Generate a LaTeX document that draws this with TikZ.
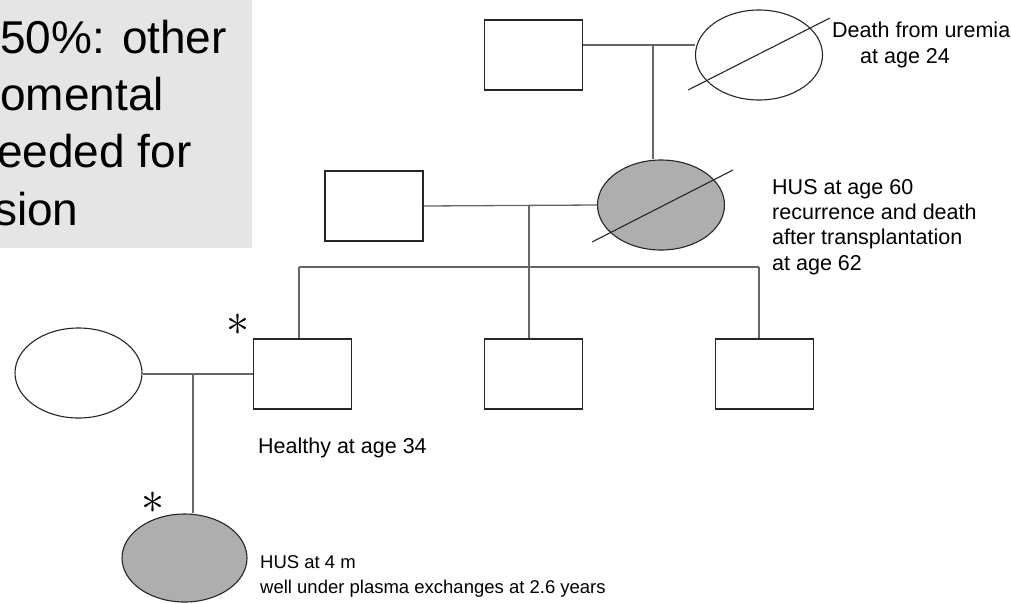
\documentclass[tikz,border=0pt]{standalone}
\usepackage{fontspec}
\setmainfont{Liberation Sans}
\usetikzlibrary{shapes.geometric}
\definecolor{boxgray}{HTML}{E5E5E5}
\definecolor{affected}{HTML}{AEAEAE}
\tikzset{
  male/.style={draw=black!85,line width=1.3pt,minimum width=98pt,minimum height=70pt,inner sep=0pt},
  female/.style={ellipse,draw=black!85,line width=1.1pt,minimum width=127pt,minimum height=90pt,inner sep=0pt},
  hus/.style={female,fill=affected},
  link/.style={draw=black!60,line width=1.3pt},
  slash/.style={draw=black!85,line width=1.1pt},
  note/.style={font=\fontsize{21.5}{25.3}\selectfont,align=left,inner sep=0pt,anchor=base west},
  boxtext/.style={font=\fontsize{46}{57.3}\selectfont,align=left,inner sep=0pt,anchor=base west},
  star/.style={inner sep=0pt,scale=4.6},
}
\begin{document}
\begin{tikzpicture}[x=1pt,y=-1pt]
\useasboundingbox (0,0) rectangle (1011,603);
% remark box, cut off at the left
\fill[boxgray] (0,0) rectangle (252,248);
\begin{scope}
\clip (0,0) rectangle (252,248);
\node[boxtext] (remark) at (0,225) {50\%: other\\omental\\\hspace*{-3pt}eeded for\\\hspace*{-6pt}sion};
\end{scope}
% first generation
\node[male] (gf) at (533.5,55) {};
\node[female] (gm) at (759,55) {};
\coordinate (m1) at (653,45);
\draw[link] (gf.east |- m1) -- (gm.west |- m1);
\draw[slash] (gm.center) ++(-71,35) -- ++(142,-72);
\node[note] (gmtxt) at (832,63) {Death from uremia\\\hspace*{28pt}at age 24};
% second generation
\node[male] (fa) at (374,206) {};
\node[hus] (mo) at (661,205) {};
\draw[link] (m1) -- (m1 |- mo.north);
\coordinate (m2) at (529,206);
\draw[link] (fa.east) -- (mo.west);
\draw[slash] (mo.center) ++(-69,37) -- ++(141,-72);
\node[note] (motxt) at (772,270) {HUS at age 60\\recurrence and death\\after transplantation\\at age 62};
% sibship
\coordinate (sibL) at (299,267);
\coordinate (sibR) at (759,267);
\node[male] (c1) at (302.5,374) {};
\node[male] (c2) at (533.5,374) {};
\node[male] (c3) at (764.5,374) {};
\draw[link] (m2) -- (m2 |- sibL);
\draw[link] (sibL) -- (sibR);
\draw[link] (sibL) -- (sibL |- c1.north);
\draw[link] (m2 |- sibL) -- (m2 |- c2.north);
\draw[link] (sibR) -- (sibR |- c3.north);
% third generation
\node[female] (wi) at (78.5,373) {};
\coordinate (m3) at (193,374);
\draw[link] (wi.east |- m3) -- (c1.west |- m3);
\node[hus,minimum width=125pt,minimum height=88pt] (pb) at (184.5,558) {};
\draw[link] (m3) -- (m3 |- pb.north);
\node[star] (st1) at (238,325) {$\ast$};
\node[star] (st2) at (153,503) {$\ast$};
\node[note] (c1txt) at (258,453) {Healthy at age 34};
\node[note,font=\fontsize{18.5}{25}\selectfont] (pbtxt) at (260,593) {HUS at 4 m\\well under plasma exchanges at 2.6 years};
\end{tikzpicture}
\end{document}
